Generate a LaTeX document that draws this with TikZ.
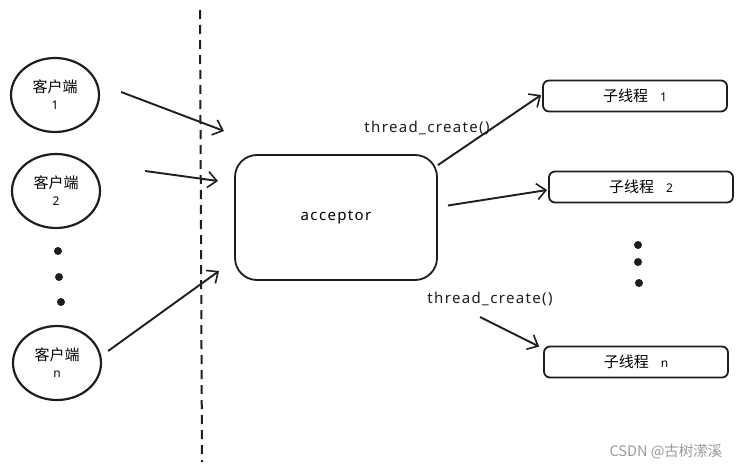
\documentclass[tikz,border=0pt]{standalone}
\usepackage{fontspec}
\setmainfont{Noto Sans CJK SC}
\newfontfamily\latinf{Noto Sans}
\newfontfamily\handf[LetterSpace=9]{Noto Sans}
\usetikzlibrary{shapes.geometric,arrows.meta}
\definecolor{ink}{HTML}{1E1E1E}
\definecolor{wm}{HTML}{9A9A9A}
\tikzset{
  client/.style={ellipse,draw=ink,line width=2.2pt,minimum width=88pt,minimum height=74pt,inner sep=0pt,align=center,font=\fontsize{15}{17}\selectfont},
  thr/.style={rectangle,rounded corners=6pt,draw=ink,line width=1.8pt,minimum width=184pt,minimum height=31pt,inner sep=0pt,font=\fontsize{15}{18}\selectfont},
  accbox/.style={rectangle,rounded corners=22pt,draw=ink,line width=1.8pt,minimum width=202pt,minimum height=125pt,inner sep=0pt,font=\handf\fontsize{15}{16}\selectfont},
  arr/.style={draw=ink,line width=1.9pt,-{Straight Barb[length=9pt,width=16pt,line width=1.6pt]}},
  lbl/.style={font=\handf\fontsize{15}{16}\selectfont,text=ink,inner sep=0pt},
  dot/.style={circle,fill=ink,minimum size=8pt,inner sep=0pt}
}
\begin{document}
\begin{tikzpicture}[x=1pt,y=-1pt]
\useasboundingbox[fill=white] (0,0) rectangle (743,471);
% dashed divider
\coordinate (dtop) at (200,10);
\coordinate (dbot) at (202,462);
\draw[ink,line width=2pt,dash pattern=on 9pt off 6pt] (dtop) -- (dbot);
% clients
\node[client] (c1) at (55,95) {客户端\\{\latinf\fontsize{12}{14}\selectfont 1}};
\node[client] (c2) at (56,191) {客户端\\{\latinf\fontsize{12}{14}\selectfont 2}};
\node[client] (cn) at (57,363) {客户端\\{\latinf\fontsize{12}{14}\selectfont n}};
\node[dot] (d1) at (58,251) {};
\node[dot] (d2) at (59,277) {};
\node[dot] (d3) at (61,302) {};
% acceptor
\node[accbox] (acc) at (336,217.5) {acceptor};
% threads
\node[thr] (t1) at (635,96) {子线程\hspace{0.8em}{\latinf\fontsize{12}{14}\selectfont 1}};
\node[thr] (t2) at (641,187) {子线程\hspace{0.8em}{\latinf\fontsize{12}{14}\selectfont 2}};
\node[thr] (tn) at (636,362) {子线程\hspace{0.8em}{\latinf\fontsize{12}{14}\selectfont n}};
\node[dot] (r1) at (638,245) {};
\node[dot] (r2) at (638,262) {};
\node[dot] (r3) at (639,283) {};
% client arrows
\coordinate (e1) at (224,131);
\coordinate (e2) at (218,181);
\coordinate (en) at (219,271);
\draw[arr] ([xshift=21pt,yshift=3pt]c1.east) -- (e1);
\draw[arr] ([xshift=44pt,yshift=20pt]c2.east) -- (e2);
\draw[arr] ([xshift=6pt,yshift=12pt]cn.east) -- (en);
% thread arrows
\draw[arr] ([yshift=-11pt]acc.north east) -- ([xshift=-1pt,yshift=1pt]t1.west);
\draw[arr] ([xshift=10pt,yshift=12pt]acc.east) -- ([xshift=-1pt,yshift=-3pt]t2.west);
\coordinate (sn) at (480,317);
\draw[arr] (sn) -- ([xshift=-4pt,yshift=-1pt]tn.north west);
% labels
\node[lbl] (l1) at (427,128) {thread\_create()};
\node[lbl] (l2) at (490,299) {thread\_create()};
% watermark
\node[font=\fontsize{14.5}{16}\selectfont,text=wm,inner sep=0pt] (wmk) at (666,452) {CSDN @古树潆溪};
\end{tikzpicture}
\end{document}
